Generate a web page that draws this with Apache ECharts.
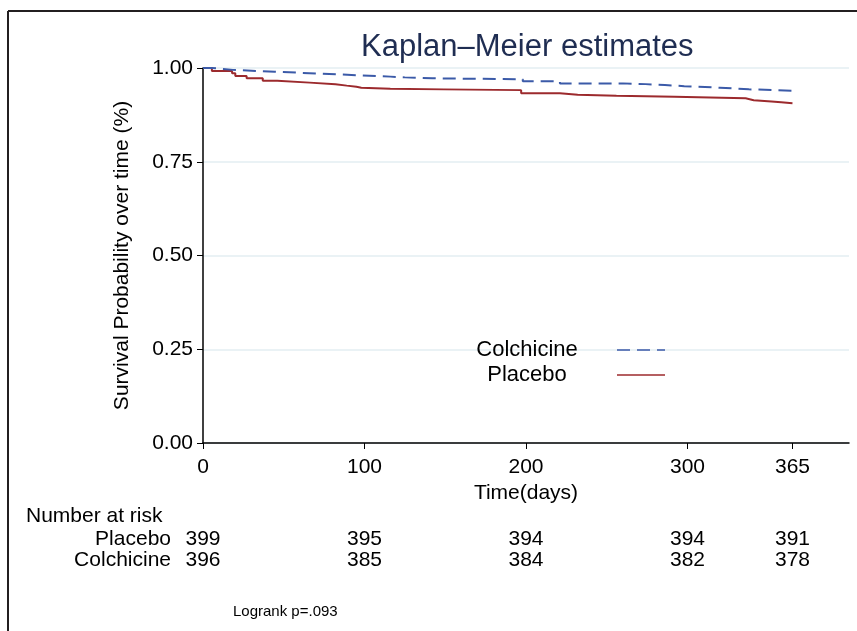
<!DOCTYPE html>
<html>
<head>
<meta charset="utf-8">
<script src="https://cdn.jsdelivr.net/npm/echarts@6/dist/echarts.min.js"></script>
<style>
  html, body { margin: 0; padding: 0; background: #fff; }
  #km { width: 857px; height: 631px; }
</style>
</head>
<body>
<div id="km"></div>
<script>
// survival curves (step after)
const colchicineTime = [0, 5.5, 18.5, 44.5, 72.5, 97, 116, 125, 142, 198, 221, 260, 274, 286, 298, 320, 338, 365]
const colchicineSurv = [1, 0.995, 0.990, 0.985, 0.9805, 0.977, 0.975, 0.9725, 0.970, 0.9645, 0.959, 0.957, 0.9547, 0.9515, 0.9475, 0.9432, 0.9395, 0.9395]
const placeboTime = [0, 5.5, 18, 20, 27, 37, 46, 66, 82, 89, 95, 98, 116, 149, 197, 221, 232, 256, 292, 336, 341, 352, 358, 365]
const placeboSurv = [1, 0.992, 0.986, 0.979, 0.9725, 0.966, 0.961, 0.9565, 0.953, 0.9502, 0.9475, 0.9448, 0.943, 0.941, 0.9325, 0.9288, 0.926, 0.9232, 0.9195, 0.9142, 0.9107, 0.9088, 0.9062, 0.9062]

// number at risk table
const riskTimes = [0, 100, 200, 300, 365]
const riskGroups = ['Colchicine', 'Placebo']
const placeboRisk = [399, 395, 394, 394, 391]
const colchicineRisk = [396, 385, 384, 382, 378]

const font = "'Liberation Sans', Arial, sans-serif"
const blue = '#3b5aa8'
const red = '#9c2a2d'

const zip = (xs, ys) => xs.map((x, i) => [x, ys[i]])
const riskRow = (name, vals) => riskTimes.map((t, i) => [t, name, vals[i]])
const riskLabel = {
  show: true,
  position: 'inside',
  formatter: p => p.value[2],
  fontSize: 21,
  color: '#000',
  textBorderWidth: 0,
  opacity: 1
}

const myChart = echarts.init(document.getElementById('km'))
const option = {
  animation: false,
  backgroundColor: '#fff',
  textStyle: { fontFamily: font },
  title: {
    text: 'Kaplan\u2013Meier estimates',
    left: 361,
    top: 32,
    padding: 0,
    textStyle: { fontFamily: font, fontSize: 31, fontWeight: 'normal', color: '#1f2d52' }
  },
  legend: {
    data: ['Colchicine', 'Placebo'],
    orient: 'vertical',
    align: 'right',
    left: 442,
    top: 339,
    padding: 0,
    itemGap: 3,
    itemWidth: 48,
    itemHeight: 14,
    itemStyle: { opacity: 0 },
    lineStyle: { width: 1.5 },
    formatter: '{a|{name}}',
    textStyle: {
      color: '#000',
      rich: { a: { width: 170, align: 'center', fontSize: 22, lineHeight: 22, fontFamily: font, color: '#000' } }
    }
  },
  grid: [
    { left: 203, width: 646, top: 68, height: 375 },
    { left: 203, width: 646, top: 529, height: 42 }
  ],
  xAxis: [
    {
      type: 'value',
      gridIndex: 0,
      min: 0,
      max: 400,
      name: 'Time(days)',
      nameLocation: 'middle',
      nameGap: 40,
      nameTextStyle: { fontSize: 21, color: '#000', fontFamily: font },
      axisLine: { lineStyle: { color: '#000', width: 1.5 } },
      axisTick: { show: true, length: 6, customValues: riskTimes, lineStyle: { color: '#000' } },
      axisLabel: { customValues: riskTimes, margin: 14, fontSize: 21, color: '#000' },
      splitLine: { show: false }
    },
    {
      type: 'value',
      gridIndex: 1,
      min: 0,
      max: 400,
      show: false
    }
  ],
  yAxis: [
    {
      type: 'value',
      gridIndex: 0,
      min: 0,
      max: 1,
      interval: 0.25,
      name: 'Survival Probability over time (%)',
      nameLocation: 'middle',
      nameGap: 70,
      nameTextStyle: { fontSize: 21, color: '#000', fontFamily: font },
      axisLine: { show: true, lineStyle: { color: '#000', width: 1.5 } },
      axisTick: { show: true, length: 6, lineStyle: { color: '#000' } },
      axisLabel: { margin: 10, fontSize: 21, color: '#000', formatter: v => v.toFixed(2) },
      splitLine: { show: true, lineStyle: { color: '#e3eef2', width: 1.5 } }
    },
    {
      type: 'category',
      gridIndex: 1,
      data: riskGroups,
      axisLine: { show: false },
      axisTick: { show: false },
      axisLabel: { interval: 0, margin: 32, fontSize: 21, color: '#000' }
    }
  ],
  graphic: [
    { type: 'line', shape: { x1: 8, y1: 11, x2: 857, y2: 11 }, style: { stroke: '#231f20', lineWidth: 2 } },
    { type: 'line', shape: { x1: 8, y1: 11, x2: 8, y2: 631 }, style: { stroke: '#231f20', lineWidth: 2 } },
    { type: 'text', left: 26, top: 506, style: { text: 'Number at risk', font: '21px ' + font, fill: '#000' } },
    { type: 'text', left: 233, top: 604, style: { text: 'Logrank p=.093', font: '15px ' + font, fill: '#000' } }
  ],
  series: [
    {
      name: 'Placebo',
      type: 'line',
      step: 'end',
      xAxisIndex: 0,
      yAxisIndex: 0,
      showSymbol: false,
      symbol: 'none',
      lineStyle: { color: red, width: 2 },
      itemStyle: { color: red },
      data: zip(placeboTime, placeboSurv)
    },
    {
      name: 'Colchicine',
      type: 'line',
      step: 'end',
      xAxisIndex: 0,
      yAxisIndex: 0,
      showSymbol: false,
      symbol: 'none',
      lineStyle: { color: blue, width: 2, type: [13, 7] },
      itemStyle: { color: blue },
      data: zip(colchicineTime, colchicineSurv)
    },
    {
      name: 'risk-placebo',
      type: 'scatter',
      xAxisIndex: 1,
      yAxisIndex: 1,
      symbolSize: 1,
      itemStyle: { color: '#fff' },
      label: riskLabel,
      data: riskRow('Placebo', placeboRisk)
    },
    {
      name: 'risk-colchicine',
      type: 'scatter',
      xAxisIndex: 1,
      yAxisIndex: 1,
      symbolSize: 1,
      itemStyle: { color: '#fff' },
      label: riskLabel,
      data: riskRow('Colchicine', colchicineRisk)
    }
  ]
}
myChart.setOption(option)
window.addEventListener('resize', function() {
  myChart.resize()
})
</script>
</body>
</html>
